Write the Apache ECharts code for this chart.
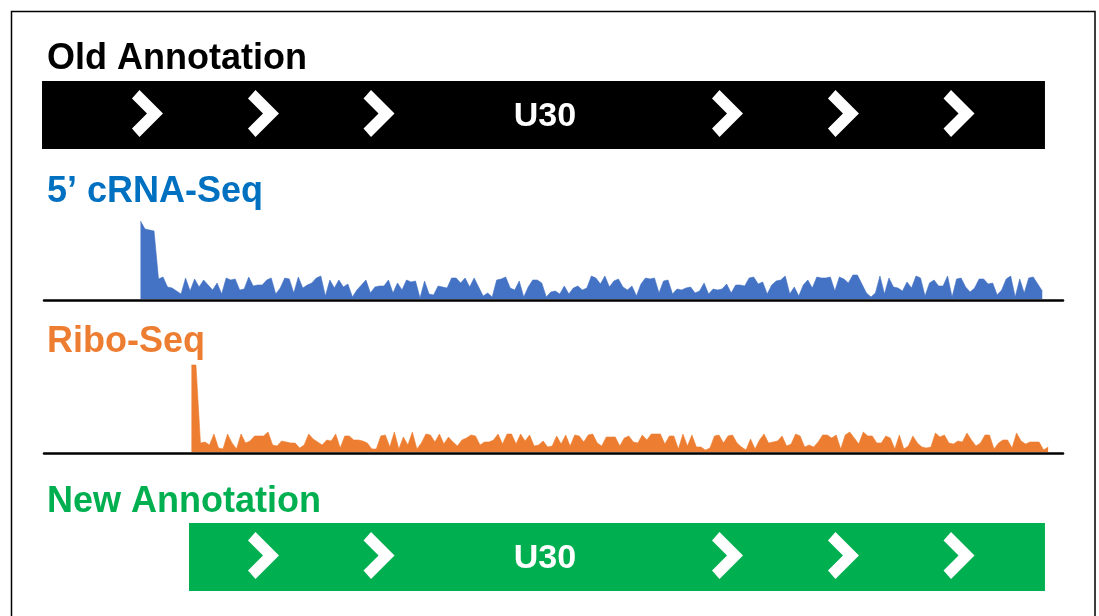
<!DOCTYPE html>
<html><head><meta charset="utf-8">
<script src="https://cdn.jsdelivr.net/npm/echarts@6/dist/echarts.min.js"></script>
<style>html,body{margin:0;padding:0;background:#fff}#c{width:1099px;height:616px}</style>
</head><body><div id="c"></div>
<script>
// ---- data ----
const TRACK_TITLES = ['Old Annotation', '5\u2019 cRNA-Seq', 'Ribo-Seq', 'New Annotation'];
const GENE_NAME = 'U30';
const AXIS_RANGE = [0, 226];
const OLD_SPAN = [-0.44, 222.0];
const NEW_SPAN = [32.16, 222.0];
const OLD_CHEVRONS = [22.84, 48.57, 74.19, 151.48, 177.2, 202.83];
const NEW_CHEVRONS = [48.57, 74.19, 151.48, 177.2, 202.83];
const GENE_LABEL_POS = 111.1;
const CRNA_START = 21.4;
const CRNA_VALUES = [78, 70, 69, 68, 20, 22, 12, 11, 8, 5, 21, 8, 20, 12, 19, 14, 9, 16, 5, 21, 19, 20, 9, 10, 22, 13, 14, 14, 19, 21, 5, 11, 21, 20, 6, 22, 11, 14, 16, 21, 23, 3, 19, 11, 19, 12, 15, 2, 9, 14, 19, 6, 12, 13, 13, 19, 6, 16, 9, 19, 17, 18, 1, 18, 5, 4, 13, 12, 11, 21, 21, 16, 21, 12, 21, 12, 3, 6, 2, 19, 20, 22, 11, 9, 18, 2, 12, 19, 19, 16, 2, 7, 8, 5, 13, 5, 11, 13, 9, 11, 23, 21, 15, 23, 12, 18, 20, 12, 9, 13, 3, 15, 21, 20, 21, 6, 18, 19, 5, 10, 9, 11, 12, 6, 8, 16, 5, 10, 9, 10, 15, 6, 14, 14, 13, 21, 22, 15, 17, 5, 14, 18, 19, 23, 5, 12, 3, 14, 19, 11, 22, 21, 21, 22, 8, 22, 20, 16, 24, 24, 15, 6, 2, 6, 23, 5, 21, 12, 11, 8, 17, 11, 23, 21, 3, 16, 19, 13, 13, 23, 2, 20, 21, 12, 7, 11, 20, 20, 15, 16, 4, 9, 20, 23, 2, 20, 6, 21, 22, 15, 8];
const RIBO_START = 32.7;
const RIBO_VALUES = [87, 87, 9, 10, 7, 18, 4, 3, 18, 9, 3, 18, 9, 11, 16, 16, 16, 20, 7, 6, 11, 10, 9, 9, 4, 7, 18, 13, 10, 7, 12, 11, 18, 4, 16, 16, 12, 12, 11, 9, 3, 3, 16, 17, 5, 20, 3, 15, 7, 20, 3, 9, 18, 17, 10, 18, 8, 15, 10, 6, 12, 14, 17, 16, 7, 10, 10, 12, 18, 8, 18, 18, 8, 18, 11, 17, 6, 7, 11, 5, 6, 16, 8, 17, 6, 17, 16, 10, 17, 18, 9, 6, 15, 15, 15, 6, 14, 16, 10, 9, 17, 12, 18, 18, 18, 8, 16, 16, 3, 18, 6, 17, 5, 5, 2, 4, 16, 17, 9, 16, 17, 9, 5, 2, 13, 3, 12, 18, 9, 10, 11, 16, 6, 8, 18, 16, 5, 7, 5, 10, 17, 17, 14, 17, 3, 17, 20, 14, 8, 20, 16, 16, 9, 9, 16, 14, 3, 17, 3, 6, 16, 9, 5, 4, 5, 19, 15, 17, 9, 8, 11, 10, 19, 12, 6, 9, 17, 17, 3, 9, 12, 12, 4, 19, 11, 8, 10, 10, 10, 2, 5];

// ---- styles ----
const FONT = '"Liberation Sans", Arial, sans-serif';
const C_BLACK = '#000000', C_BLUE_TXT = '#0070C0', C_BLUE = '#4472C4', C_ORANGE = '#ED7D31', C_GREEN = '#00B050';
const CHEVRON = [[-15,-15],[-7.5,-23.5],[16,0],[-7.5,23.5],[-15,15],[0,0]];

function geneRenderer(chevrons, color) {
  return function (params, api) {
    const p0 = api.coord([api.value(0), 1]);
    const p1 = api.coord([api.value(1), 0]);
    const midY = (p0[1] + p1[1]) / 2 - 1.5;
    const children = [{
      type: 'rect',
      shape: { x: p0[0], y: p0[1], width: p1[0] - p0[0], height: p1[1] - p0[1] },
      style: { fill: color }
    }];
    chevrons.forEach(c => {
      const cx = api.coord([c, 0.5])[0];
      children.push({
        type: 'polygon',
        shape: { points: CHEVRON.map(p => [cx + p[0], midY + p[1]]) },
        style: { fill: '#ffffff' }
      });
    });
    const lx = api.coord([GENE_LABEL_POS, 0.5])[0];
    children.push({
      type: 'text',
      style: { text: GENE_NAME, x: lx, y: midY + 3, fill: '#ffffff', font: 'bold 34px ' + FONT, align: 'center', verticalAlign: 'middle' }
    });
    return { type: 'group', children };
  };
}

const grids = [
  { left: 44, right: 36, top: 81, height: 68 },
  { left: 44, right: 36, top: 219, height: 80 },
  { left: 44, right: 36, top: 362, height: 90 },
  { left: 44, right: 36, top: 523, height: 68 }
];
const yMax = [1, 80, 90, 1];
const TITLE_Y = [59, 192.5, 341.8, 502.3];
const TITLE_COLORS = [C_BLACK, C_BLUE_TXT, C_ORANGE, C_GREEN];

const option = {
  animation: false,
  backgroundColor: '#ffffff',
  grid: grids,
  xAxis: grids.map((g, i) => ({
    type: 'value', gridIndex: i, min: AXIS_RANGE[0], max: AXIS_RANGE[1],
    offset: 1.5,
    axisLine: { show: i === 1 || i === 2, onZero: false, lineStyle: { color: C_BLACK, width: 2.5 } },
    axisTick: { show: false }, axisLabel: { show: false }, splitLine: { show: false }
  })),
  yAxis: grids.map((g, i) => ({
    type: 'value', gridIndex: i, min: 0, max: yMax[i], show: false
  })),
  series: [
    { type: 'custom', xAxisIndex: 0, yAxisIndex: 0, data: [OLD_SPAN], renderItem: geneRenderer(OLD_CHEVRONS, C_BLACK) },
    { type: 'line', xAxisIndex: 1, yAxisIndex: 1, symbol: 'none', smooth: false,
      lineStyle: { color: C_BLUE, width: 0.6 }, areaStyle: { color: C_BLUE, opacity: 1 },
      data: CRNA_VALUES.map((v, k) => [CRNA_START + k, v]) },
    { type: 'line', xAxisIndex: 2, yAxisIndex: 2, symbol: 'none', smooth: false,
      lineStyle: { color: C_ORANGE, width: 0.6 }, areaStyle: { color: C_ORANGE, opacity: 1 },
      data: RIBO_VALUES.map((v, k) => [RIBO_START + k, v]) },
    { type: 'custom', xAxisIndex: 3, yAxisIndex: 3, data: [NEW_SPAN], renderItem: geneRenderer(NEW_CHEVRONS, C_GREEN) }
  ],
  graphic: [
    { type: 'rect', shape: { x: 11.5, y: 11.5, width: 1083.5, height: 700 }, style: { fill: null, stroke: C_BLACK, lineWidth: 1.5 }, silent: true }
  ].concat(TRACK_TITLES.map((t, i) => ({
    type: 'text', x: 47, y: TITLE_Y[i],
    style: { text: t, fill: TITLE_COLORS[i], font: 'bold 36px ' + FONT, verticalAlign: 'middle' }
  })))
};
const chart = echarts.init(document.getElementById('c'), null, { renderer: 'canvas' });
chart.setOption(option);
</script>
</body></html>
